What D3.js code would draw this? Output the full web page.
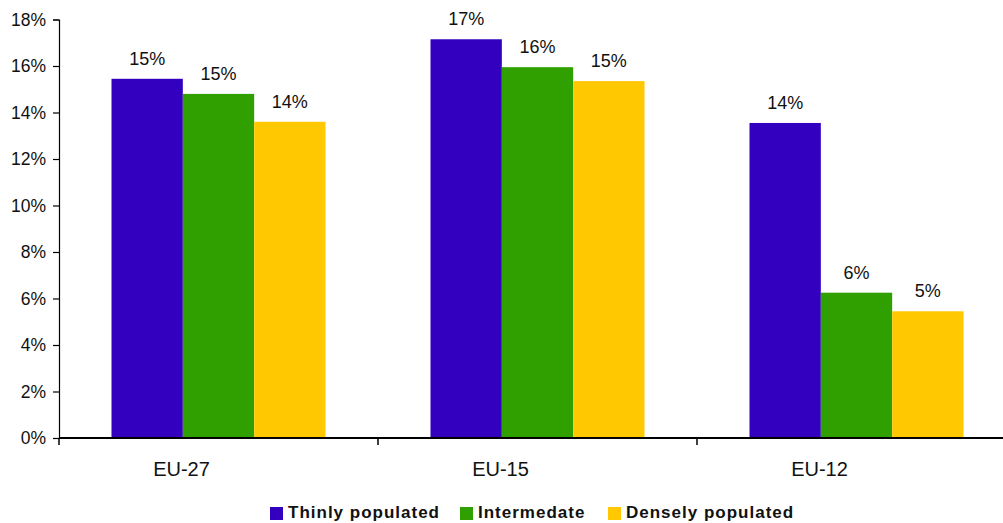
<!DOCTYPE html>
<html>
<head>
<meta charset="utf-8">
<script src="https://cdn.jsdelivr.net/npm/d3@7"></script>
<style>
  html, body { margin: 0; padding: 0; background: #fff; }
  svg { display: block; }
  text { font-family: Arial, "Liberation Sans", sans-serif; fill: #111; }
</style>
</head>
<body>
<svg id="chart" width="1003" height="523"></svg>
<script>
// ---- data ----
const categories = ["EU-27", "EU-15", "EU-12"];
const seriesNames = ["Thinly populated", "Intermedate", "Densely populated"];
const thinly = [15.45, 17.15, 13.55];
const intermediate = [14.8, 15.95, 6.25];
const densely = [13.6, 15.35, 5.45];
const yTicks = [0, 2, 4, 6, 8, 10, 12, 14, 16, 18];

// ---- styles / layout ----
const colors = ["#3300c0", "#30a000", "#ffc800"];
const W = 1003, H = 523;
const plot = { left: 59, right: 1016, top: 19.5, bottom: 438 };

const svg = d3.select("#chart");
svg.append("rect").attr("width", W).attr("height", H).attr("fill", "#fff");

const y = d3.scaleLinear().domain([0, 18]).range([plot.bottom, plot.top]);
const x0 = d3.scaleBand().domain(categories).range([plot.left, plot.right]).padding(0);
const groupW = 214;
const x1 = d3.scaleBand().domain(seriesNames)
  .range([(x0.bandwidth() - groupW) / 2, (x0.bandwidth() + groupW) / 2]).padding(0);

const seriesValues = [thinly, intermediate, densely];
const rows = [];
categories.forEach((c, i) => {
  seriesNames.forEach((s, j) => rows.push({ cat: c, ser: s, val: seriesValues[j][i], color: colors[j] }));
});

// bars
const g = svg.append("g");
g.selectAll("rect.bar").data(rows).enter().append("rect")
  .attr("class", "bar")
  .attr("x", d => x0(d.cat) + x1(d.ser))
  .attr("y", d => y(d.val))
  .attr("width", x1.bandwidth())
  .attr("height", d => y(0) - y(d.val))
  .attr("fill", d => d.color);

// value labels
g.selectAll("text.val").data(rows).enter().append("text")
  .attr("class", "val")
  .attr("x", d => x0(d.cat) + x1(d.ser) + x1.bandwidth() / 2)
  .attr("y", d => y(d.val) - 14)
  .attr("text-anchor", "middle")
  .style("font-size", "18px")
  .text(d => Math.round(d.val) + "%");

// y axis
const yAxis = d3.axisLeft(y).tickValues(yTicks).tickSize(6).tickPadding(7)
  .tickFormat(d => d + "%");
const yg = svg.append("g").attr("transform", `translate(${plot.left},0)`).call(yAxis);
yg.select(".domain").attr("stroke", "#000").attr("stroke-width", 1.2);
yg.selectAll(".tick line").attr("stroke", "#000").attr("stroke-width", 1.2);
yg.selectAll(".tick text").style("font-size", "17.5px").style("font-family", "Arial, 'Liberation Sans', sans-serif").attr("fill", "#111");

// x axis: ticks at band boundaries
const xg = svg.append("g").attr("transform", `translate(0,${plot.bottom})`);
xg.append("line").attr("x1", plot.left).attr("x2", plot.right)
  .attr("y1", 0).attr("y2", 0).attr("stroke", "#000").attr("stroke-width", 2);
const boundaries = categories.map(c => x0(c)).concat([plot.right]);
xg.selectAll("line.tk").data(boundaries).enter().append("line")
  .attr("class", "tk")
  .attr("x1", d => d).attr("x2", d => d).attr("y1", 0).attr("y2", 7)
  .attr("stroke", "#000").attr("stroke-width", 1.5);
xg.selectAll("text.cat").data(categories).enter().append("text")
  .attr("class", "cat")
  .attr("x", d => x0(d) + x0.bandwidth() / 2 - 37)
  .attr("y", 38)
  .attr("text-anchor", "middle")
  .style("font-size", "20px")
  .text(d => d);

// legend
const legendX = [270, 460, 608];
const lg = svg.append("g");
seriesNames.forEach((s, j) => {
  lg.append("rect").attr("x", legendX[j]).attr("y", 507).attr("width", 13).attr("height", 13)
    .attr("fill", colors[j]);
  lg.append("text").attr("x", legendX[j] + 18).attr("y", 518)
    .style("font-size", "17px").style("font-weight", "bold").style("letter-spacing", "1px")
    .text(s);
});
</script>
</body>
</html>
